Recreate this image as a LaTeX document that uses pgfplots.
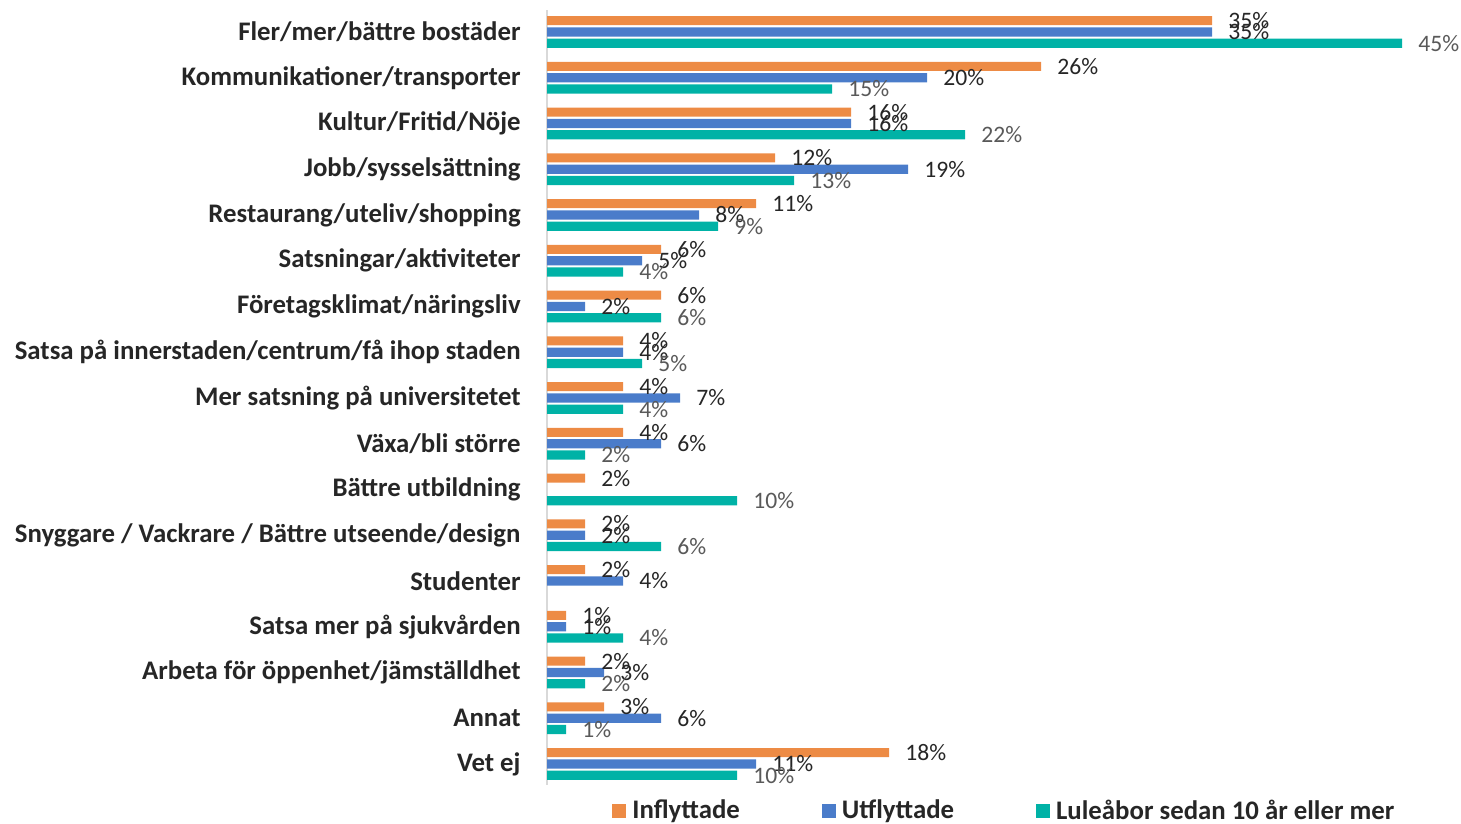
\documentclass[border=0pt]{standalone}
\usepackage{pgfplots}
\pgfplotsset{compat=1.18}
\usepackage{fontspec}
\setmainfont{Carlito}
\definecolor{cOr}{HTML}{ED8B45}
\definecolor{cBl}{HTML}{4A7CCA}
\definecolor{cTe}{HTML}{00B2A6}
\definecolor{cTxt}{HTML}{262626}
\definecolor{cGr}{HTML}{595959}
\begin{document}
\begin{tikzpicture}
\begin{axis}[
  at={(273.5pt,19.5pt)}, anchor=south west,
  scale only axis, width=427.5pt, height=387.5pt,
  xbar, xmin=0, xmax=45,
  ymin=-0.48, ymax=16.46, y dir=reverse,
  axis x line=none, axis y line*=left,
  y axis line style={draw=black!15, line width=0.8pt, -},
  ytick={0,...,16}, major tick length=0pt,
  yticklabels={Fler/mer/bättre bostäder,Kommunikationer/transporter,Kultur/Fritid/Nöje,Jobb/sysselsättning,Restaurang/uteliv/shopping,Satsningar/aktiviteter,Företagsklimat/näringsliv,Satsa på innerstaden/centrum/få ihop staden,Mer satsning på universitetet,Växa/bli större,Bättre utbildning,Snyggare / Vackrare / Bättre utseende/design,Studenter,Satsa mer på sjukvården,Arbeta för öppenhet/jämställdhet,Annat,Vet ej},
  yticklabel style={font=\fontsize{13.4}{15}\selectfont\bfseries, text=cTxt, inner sep=0pt, xshift=-13pt},
  bar width=0.2,
  clip=false,
  nodes near coords={\pgfplotspointmeta\%},
  nodes near coords style={font=\fontsize{11.8}{14}\selectfont, anchor=west, inner sep=0pt, xshift=8pt},
  point meta=explicit symbolic,
  legend columns=3,
  legend style={draw=none, fill=none, inner sep=0pt, at={(0.076,0)}, anchor=west, yshift=-13pt,
    font=\fontsize{13.4}{15}\selectfont\bfseries, text=cTxt,
    nodes={inner sep=0pt},
    /tikz/every odd column/.append style={column sep=3pt},
    /tikz/every even column/.append style={column sep=41pt}},
  legend image code/.code={\fill (0pt,-3.5pt) rectangle (7pt,3.5pt);},
]
\addplot[fill=cOr, draw=none, bar shift=-0.247, nodes near coords style={text=cTxt}] coordinates {
(35,0) [35] (26,1) [26] (16,2) [16] (12,3) [12] (11,4) [11] (6,5) [6] (6,6) [6] (4,7) [4] (4,8) [4] (4,9) [4] (2,10) [2] (2,11) [2] (2,12) [2] (1,13) [1] (2,14) [2] (3,15) [3] (18,16) [18]};
\addplot[fill=cBl, draw=none, bar shift=0, nodes near coords style={text=cTxt}] coordinates {
(35,0) [35] (20,1) [20] (16,2) [16] (19,3) [19] (8,4) [8] (5,5) [5] (2,6) [2] (4,7) [4] (7,8) [7] (6,9) [6] (2,11) [2] (4,12) [4] (1,13) [1] (3,14) [3] (6,15) [6] (11,16) [11]};
\addplot[fill=cTe, draw=none, bar shift=0.247, nodes near coords style={text=cGr}] coordinates {
(45,0) [45] (15,1) [15] (22,2) [22] (13,3) [13] (9,4) [9] (4,5) [4] (6,6) [6] (5,7) [5] (4,8) [4] (2,9) [2] (10,10) [10] (6,11) [6] (4,13) [4] (2,14) [2] (1,15) [1] (10,16) [10]};
\legend{Inflyttade,Utflyttade,Luleåbor sedan 10 år eller mer}
\end{axis}
\pgfresetboundingbox
\path[use as bounding box] (0,0) rectangle (730.5pt,412pt);
\end{tikzpicture}
\end{document}
